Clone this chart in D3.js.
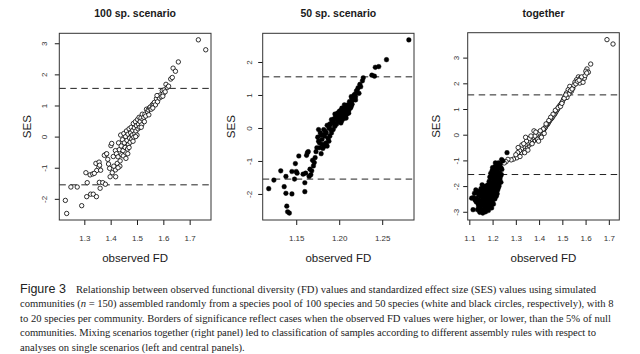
<!DOCTYPE html>
<html>
<head>
<meta charset="utf-8">
<script src="https://cdn.jsdelivr.net/npm/d3@7"></script>
<style>
  body { margin: 0; background: #fff; }
  svg { display: block; }
</style>
</head>
<body>
<div id="chart"></div>
<script>
// observed FD vs SES, [fd, ses] pairs
const scen100 = [
  [1.228,-2.05],[1.233,-2.47],[1.290,-2.22],[1.249,-1.62],[1.273,-1.62],[1.311,-1.48],[1.309,-1.93],[1.324,-1.85],[1.334,-1.85],[1.346,-1.93],
  [1.306,-1.16],[1.322,-1.23],[1.357,-1.47],[1.360,-1.66],[1.370,-1.48],[1.380,-1.53],[1.344,-0.86],[1.356,-0.82],[1.355,-0.99],[1.347,-1.09],
  [1.406,-1.16],[1.398,-1.29],[1.419,-1.29],[1.382,-0.57],[1.389,-0.73],[1.401,-0.29],[1.410,-0.64],[1.418,-0.45],[1.425,-0.86],[1.418,-1.07],
  [1.332,-1.20],[1.338,-1.18],[1.358,-0.92],[1.362,-1.08],[1.376,-0.60],[1.385,-0.55],[1.392,-0.88],[1.396,-1.02],[1.404,-0.22],[1.412,-0.95],
  [1.422,-0.55],[1.428,-0.65],[1.430,-0.20],[1.433,-0.42],[1.436,-0.78],[1.438,0.05],[1.440,-0.30],[1.442,-0.58],[1.445,-0.10],[1.447,-0.45],
  [1.450,0.10],[1.452,-0.20],[1.455,-0.35],[1.457,0.00],[1.460,0.18],[1.462,-0.12],[1.464,-0.40],[1.466,0.08],[1.468,-0.25],[1.470,0.25],
  [1.472,-0.05],[1.474,-0.18],[1.476,0.12],[1.478,0.30],[1.480,-0.08],[1.482,0.05],[1.484,0.20],[1.486,0.42],[1.488,-0.02],[1.490,0.28],
  [1.492,0.10],[1.494,0.48],[1.496,0.18],[1.498,0.35],[1.500,0.05],[1.502,0.55],[1.504,0.25],[1.506,0.40],[1.508,0.62],[1.510,0.30],
  [1.512,0.48],[1.515,0.60],[1.518,0.38],[1.520,0.72],[1.523,0.55],[1.526,0.62],[1.530,0.72],[1.533,0.66],[1.536,0.88],[1.540,0.80],
  [1.543,0.86],[1.547,0.92],[1.550,0.95],[1.554,0.88],[1.558,1.02],[1.562,1.05],[1.566,1.10],[1.570,1.02],[1.574,1.22],[1.578,1.12],
  [1.582,1.30],[1.585,1.24],[1.589,1.34],[1.592,1.28],[1.596,1.48],[1.600,1.38],[1.603,1.50],[1.607,1.44],[1.610,1.68],[1.615,1.58],
  [1.620,1.62],[1.628,1.85],[1.634,1.90],[1.637,2.20],[1.646,2.10],[1.657,2.40],[1.733,3.11],[1.761,2.79],
  [1.465,-0.55],[1.448,-0.62],[1.435,-0.95],[1.428,-1.00],[1.470,-0.35],[1.485,-0.15],[1.495,0.00],[1.458,-0.70],
  [1.516,0.30],[1.528,0.48],[1.545,0.70],[1.560,0.92],[1.576,1.32],[1.598,1.30]
];

const scen50 = [
  [1.281,2.67],[1.255,2.07],[1.242,1.84],[1.246,1.86],[1.238,1.60],[1.241,1.57],[1.228,1.52],[1.227,1.43],[1.224,1.32],[1.222,1.22],
  [1.220,1.12],[1.218,1.02],[1.216,0.92],[1.223,1.05],[1.219,0.85],[1.214,0.95],[1.212,0.80],[1.215,0.72],[1.210,0.70],[1.213,0.60],
  [1.208,0.62],[1.211,0.52],[1.206,0.55],[1.209,0.42],[1.204,0.48],[1.207,0.35],[1.202,0.40],[1.205,0.28],[1.200,0.30],[1.203,0.60],
  [1.201,0.52],[1.198,0.45],[1.199,0.20],[1.196,0.35],[1.197,0.12],[1.194,0.28],[1.195,0.05],[1.192,0.18],[1.193,-0.05],[1.190,0.10],
  [1.191,-0.15],[1.188,0.00],[1.189,-0.25],[1.186,0.08],[1.187,-0.32],[1.184,-0.10],[1.185,-0.45],[1.182,-0.20],[1.183,-0.55],[1.180,-0.35],
  [1.181,-0.62],[1.178,-0.15],[1.179,-0.78],[1.177,-0.45],[1.176,-0.05],[1.175,-0.28],[1.174,-0.60],[1.173,-0.72],[1.172,-0.90],[1.171,-1.05],
  [1.170,-1.15],[1.169,-0.98],[1.168,-1.30],[1.167,-1.42],[1.166,-1.25],[1.165,-1.47],[1.163,-0.75],[1.164,-0.72],[1.162,-0.83],[1.161,-1.37],
  [1.160,-1.66],[1.160,-1.93],[1.158,-1.40],[1.153,-0.85],[1.151,-1.37],[1.150,-1.32],[1.149,-1.08],[1.148,-1.55],[1.145,-1.32],[1.145,-2.00],
  [1.142,-2.58],[1.140,-2.54],[1.139,-2.37],[1.138,-1.98],[1.138,-1.47],[1.136,-1.78],[1.132,-1.30],[1.124,-1.58],[1.118,-1.84],
  [1.206,0.70],[1.212,0.68],[1.217,0.98],[1.221,1.15],[1.225,1.25],[1.210,0.55],[1.204,0.38],[1.200,0.50],[1.198,0.25],[1.195,0.42],
  [1.203,0.22],[1.207,0.48],[1.209,0.62],[1.213,0.78],[1.216,0.85],[1.219,0.95],[1.214,0.65],[1.211,0.45],[1.205,0.55],[1.202,0.15],
  [1.197,0.30],[1.193,0.22],[1.190,-0.05],[1.188,-0.40],[1.186,-0.55],[1.184,-0.48],[1.182,-0.05],[1.180,-0.50],[1.183,-0.25],[1.185,-0.15],
  [1.179,-0.22],[1.177,-0.60],[1.176,-0.40],[1.189,0.12],[1.191,0.25],[1.194,0.15],[1.199,0.40],[1.201,0.35],[1.208,0.30],[1.215,0.90]
];

// right panel: SES recomputed against the pooled null
const together100 = [
  [1.692,3.70],[1.718,3.53],[1.622,2.75],[1.606,2.56],[1.601,2.47],[1.612,2.43],[1.569,2.25],[1.578,2.21],[1.587,2.14],[1.561,2.14],
  [1.554,2.04],[1.575,2.01],[1.589,2.04],[1.595,2.20],[1.583,2.25],[1.532,1.88],[1.525,1.75],[1.539,1.69],[1.518,1.62],[1.511,1.50],
  [1.545,1.80],[1.550,1.92],[1.528,1.58],[1.520,1.45],[1.505,1.38],[1.500,1.28],[1.495,1.20],[1.490,1.15],[1.485,1.08],[1.480,1.00],
  [1.476,0.95],[1.472,0.88],[1.468,0.82],[1.465,0.78],[1.460,0.72],[1.456,0.66],[1.452,0.62],[1.448,0.58],[1.444,0.52],[1.440,0.46],
  [1.436,0.40],[1.432,0.38],[1.428,0.30],[1.424,0.25],[1.420,0.20],[1.416,0.15],[1.412,0.08],[1.408,0.12],[1.404,0.02],[1.400,-0.05],
  [1.396,0.05],[1.392,-0.10],[1.388,-0.02],[1.384,-0.18],[1.380,-0.08],[1.376,-0.25],[1.372,-0.12],[1.368,-0.30],[1.364,-0.20],[1.360,-0.38],
  [1.356,-0.28],[1.352,-0.45],[1.348,-0.35],[1.344,-0.52],[1.340,-0.40],[1.336,-0.60],[1.332,-0.48],[1.328,-0.65],[1.324,-0.55],[1.320,-0.72],
  [1.316,-0.62],[1.312,-0.80],[1.308,-0.70],[1.304,-0.90],[1.300,-0.78],[1.290,-0.95],[1.280,-0.98],[1.266,-0.96],[1.258,-1.05],[1.250,-1.10],
  [1.470,0.95],[1.482,1.05],[1.492,1.10],[1.498,1.22],[1.508,1.42],[1.515,1.55],[1.535,1.72],[1.542,1.78],[1.558,1.98],[1.565,2.08],
  [1.572,2.12],[1.598,2.30],[1.605,2.40],[1.460,0.80],[1.450,0.68],[1.442,0.55],[1.430,0.42],[1.418,0.22],[1.405,0.15],[1.394,-0.18],
  [1.382,-0.05],[1.370,-0.35],[1.358,-0.15],[1.346,-0.25],[1.338,-0.70],[1.326,-0.40],[1.318,-0.85],[1.310,-0.50],[1.378,0.15],[1.365,-0.05],
  [1.352,-0.60],[1.342,-0.10],[1.334,-0.35],[1.386,0.10],[1.398,-0.25],[1.410,-0.10],[1.422,0.05]
];

const together50 = [
  [1.262,-0.70],[1.239,-0.97],[1.244,-1.02],[1.232,-1.15],[1.225,-1.10],[1.218,-1.20],[1.210,-1.25],[1.228,-1.30],[1.236,-1.28],[1.215,-1.35],
  [1.205,-1.32],[1.222,-1.42],[1.230,-1.48],[1.198,-1.40],[1.212,-1.50],[1.238,-1.55],[1.220,-1.58],[1.200,-1.55],[1.192,-1.50],[1.208,-1.62],
  [1.226,-1.68],[1.232,-1.72],[1.214,-1.75],[1.196,-1.70],[1.188,-1.65],[1.204,-1.80],[1.220,-1.85],[1.228,-1.90],[1.210,-1.92],[1.194,-1.88],
  [1.185,-1.82],[1.180,-1.95],[1.200,-2.00],[1.216,-2.02],[1.224,-2.08],[1.206,-2.12],[1.190,-2.05],[1.176,-2.10],[1.170,-2.00],[1.184,-2.18],
  [1.198,-2.22],[1.212,-2.25],[1.220,-2.30],[1.204,-2.35],[1.188,-2.30],[1.172,-2.25],[1.165,-2.15],[1.160,-2.05],[1.155,-1.95],[1.150,-2.10],
  [1.145,-2.20],[1.158,-2.30],[1.166,-2.38],[1.180,-2.42],[1.194,-2.45],[1.210,-2.50],[1.200,-2.58],[1.186,-2.55],[1.174,-2.50],[1.162,-2.48],
  [1.150,-2.40],[1.140,-2.35],[1.135,-2.25],[1.128,-2.15],[1.122,-2.28],[1.118,-2.45],[1.125,-2.55],[1.132,-2.48],[1.142,-2.55],[1.155,-2.62],
  [1.168,-2.65],[1.180,-2.70],[1.192,-2.72],[1.204,-2.70],[1.188,-2.80],[1.176,-2.85],[1.164,-2.78],[1.150,-2.75],[1.138,-2.70],[1.130,-2.62],
  [1.135,-2.92],[1.148,-2.90],[1.160,-2.95],[1.170,-3.00],[1.158,-3.05],[1.145,-3.02],[1.182,-2.95],[1.196,-2.85],[1.110,-2.47],[1.116,-2.92],
  [1.215,-1.45],[1.225,-1.55],[1.234,-1.62],[1.218,-1.70],[1.206,-1.72],[1.195,-1.62],[1.202,-1.90],[1.212,-1.95],[1.222,-2.15],[1.196,-2.10],
  [1.182,-2.05],[1.190,-2.38],[1.205,-2.42],[1.216,-2.40],[1.178,-2.32],[1.168,-2.18],[1.160,-2.20],[1.152,-2.30],[1.170,-2.55],[1.184,-2.62],
  [1.196,-2.62],[1.158,-2.55],[1.146,-2.62],[1.140,-2.80],[1.165,-2.88],[1.178,-2.78],[1.228,-1.20],[1.212,-1.10],[1.200,-1.28],[1.240,-1.35],
  [1.236,-1.85],[1.228,-2.00]
];

const titles = ["100 sp. scenario", "50 sp. scenario", "together"];
const xTicks100 = ["1.3", "1.4", "1.5", "1.6", "1.7"];
const xTicks50 = ["1.15", "1.20", "1.25"];
const xTicksAll = ["1.1", "1.2", "1.3", "1.4", "1.5", "1.6", "1.7"];
const yTicks100 = ["-2", "-1", "0", "1", "2", "3"];
const yTicks50 = ["-2", "-1", "0", "1", "2"];
const yTicksAll = ["-3", "-2", "-1", "0", "1", "2", "3"];
const sigBorders = [-1.55, 1.55];

const captionLines = [
  [{ t: "Relationship between observed functional diversity (FD) values and standardized effect size (SES) values using simulated" }],
  [{ t: "communities (" }, { t: "n", i: true }, { t: " = 150) assembled randomly from a species pool of 100 species and 50 species (white and black circles, respectively), with 8" }],
  [{ t: "to 20 species per community. Borders of significance reflect cases when the observed FD values were higher, or lower, than the 5% of null" }],
  [{ t: "communities. Mixing scenarios together (right panel) led to classification of samples according to different assembly rules with respect to" }],
  [{ t: "analyses on single scenarios (left and central panels)." }]
];

const panels = [
  { title: titles[0], x0: 59.3, x1: 211, y0: 33.3, y1: 220, xDom: [1.205, 1.781], yDom: [-2.68, 3.32],
    xTicks: xTicks100, yTicks: yTicks100, yLabOff: 12.3, layers: [{ data: scen100, filled: false }] },
  { title: titles[1], x0: 262.7, x1: 414, y0: 33.3, y1: 220, xDom: [1.111, 1.287], yDom: [-2.79, 2.87],
    xTicks: xTicks50, yTicks: yTicks50, yLabOff: 10.3, layers: [{ data: scen50, filled: true }] },
  { title: titles[2], x0: 467.7, x1: 619.3, y0: 32.7, y1: 220, xDom: [1.093, 1.745], yDom: [-3.32, 3.97],
    xTicks: xTicksAll, yTicks: yTicksAll, yLabOff: 8.7,
    layers: [{ data: together100, filled: false }, { data: together50, filled: true }] }
];

const sans = "'Liberation Sans', Arial, Helvetica, sans-serif";
const ink = "#1a1a1a";

const svg = d3.select("#chart").append("svg")
  .attr("width", 640)
  .attr("height", 354);

panels.forEach((p) => {
  const x = d3.scaleLinear().domain(p.xDom).range([p.x0, p.x1]);
  const y = d3.scaleLinear().domain(p.yDom).range([p.y1, p.y0]);
  const g = svg.append("g");

  // x axis
  const xAx = g.append("g")
    .attr("transform", `translate(0,${p.y1})`)
    .call(d3.axisBottom(x).tickValues(p.xTicks.map(Number)).tickSize(5)
      .tickFormat((d, i) => p.xTicks[i]));
  xAx.select(".domain").remove();
  xAx.selectAll("line").attr("stroke", ink);
  xAx.selectAll("text")
    .attr("y", 21).attr("dy", 0)
    .style("font-family", sans).style("font-size", "8px").attr("fill", "#333");

  // y axis, labels parallel to the axis like R's default
  const yAx = g.append("g")
    .attr("transform", `translate(${p.x0},0)`)
    .call(d3.axisLeft(y).tickValues(p.yTicks.map(Number)).tickSize(4.5)
      .tickFormat((d, i) => p.yTicks[i]));
  yAx.select(".domain").remove();
  yAx.selectAll("line").attr("stroke", ink);
  yAx.selectAll("text")
    .attr("transform", "rotate(-90)")
    .attr("x", 0).attr("y", -p.yLabOff).attr("dy", 0)
    .style("text-anchor", "middle")
    .style("font-family", sans).style("font-size", "8px").attr("fill", "#333");

  // significance borders
  g.selectAll("line.sig")
    .data(sigBorders)
    .enter()
    .append("line")
    .classed("sig", true)
    .attr("x1", p.x0).attr("x2", p.x1)
    .attr("y1", (d) => y(d)).attr("y2", (d) => y(d))
    .attr("stroke", "#222")
    .attr("stroke-width", 1)
    .attr("stroke-dasharray", "6.5,4.5");

  p.layers.forEach((l) => {
    g.append("g")
      .selectAll("circle")
      .data(l.data)
      .enter()
      .append("circle")
      .attr("cx", (d) => x(d[0]))
      .attr("cy", (d) => y(d[1]))
      .attr("r", l.filled ? 2.35 : 2.2)
      .attr("fill", l.filled ? "#000" : "#fff")
      .attr("stroke", "#000")
      .attr("stroke-width", l.filled ? 0.4 : 0.8);
  });

  // plot box
  g.append("rect")
    .attr("x", p.x0).attr("y", p.y0)
    .attr("width", p.x1 - p.x0).attr("height", p.y1 - p.y0)
    .attr("fill", "none")
    .attr("stroke", "#333")
    .attr("stroke-width", 1);

  const cx = (p.x0 + p.x1) / 2;
  g.append("text")
    .text(p.title)
    .attr("x", cx).attr("y", 16.5)
    .style("text-anchor", "middle")
    .style("font-family", sans).style("font-size", "10.5px").style("font-weight", "bold")
    .attr("fill", ink);

  g.append("text")
    .text("observed FD")
    .attr("x", cx).attr("y", 261.5)
    .style("text-anchor", "middle")
    .style("font-family", sans).style("font-size", "11.5px")
    .attr("fill", ink);

  g.append("text")
    .text("SES")
    .attr("transform", `translate(${p.x0 - 28},${(p.y0 + p.y1) / 2}) rotate(-90)`)
    .style("text-anchor", "middle")
    .style("font-family", sans).style("font-size", "11.5px")
    .attr("fill", ink);
});

// caption
const serif = "'Liberation Serif', 'Times New Roman', serif";
const lineEnds = [596, 613.5, 611, 596, null];
const cap = svg.append("g").attr("fill", "#222");

cap.append("text")
  .text("Figure 3")
  .attr("x", 20).attr("y", 293)
  .style("font-family", sans).style("font-size", "12.5px");

captionLines.forEach((parts, i) => {
  const x0 = i === 0 ? 76 : 20;
  const t = cap.append("text")
    .attr("x", x0)
    .attr("y", 293 + i * 14.4)
    .style("font-family", serif)
    .style("font-size", "10.6px");
  if (lineEnds[i]) {
    t.attr("textLength", lineEnds[i] - x0).attr("lengthAdjust", "spacing");
  }
  parts.forEach((s) => {
    t.append("tspan").text(s.t).style("font-style", s.i ? "italic" : "normal");
  });
});
</script>
</body>
</html>
